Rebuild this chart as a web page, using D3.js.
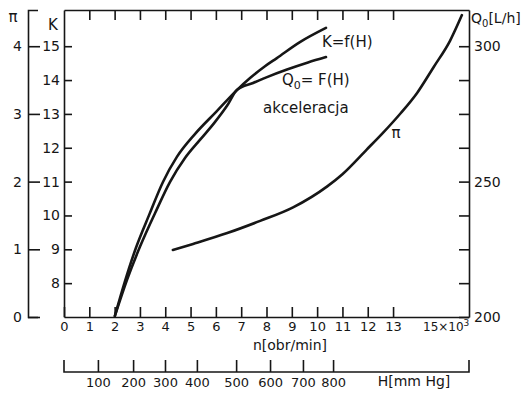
<!DOCTYPE html>
<html>
<head>
<meta charset="utf-8">
<script src="https://cdn.jsdelivr.net/npm/d3@7/dist/d3.min.js"></script>
<style>
  body { margin: 0; background: #fff; }
  svg { color: #161616; }
  svg text { font-family: "DejaVu Sans", sans-serif; fill: #161616; }
</style>
</head>
<body>
<svg id="chart" width="530" height="393"></svg>
<script>
// Rotational speed n, thousands of rev/min
const nTicks = [0, 1, 2, 3, 4, 5, 6, 7, 8, 9, 10, 11, 12, 13];
const nTopTicks = [1, 2, 3, 4, 5, 6, 7, 8, 9, 10, 11, 12, 13];
const kTicks = [8, 9, 10, 11, 12, 13, 14, 15];
const piTicks = [0, 1, 2, 3, 4];
const q0Ticks = [200, 212.5, 225, 237.5, 250, 262.5, 275, 287.5, 300];
const q0Labels = [200, 250, 300];
// Vacuum H [mm Hg] and the speed n at which each value is reached
const hTicks = [100, 200, 300, 400, 500, 600, 700, 800];
const hAtN = [1.34, 2.73, 3.99, 5.25, 6.80, 8.14, 9.44, 10.63];

// K = f(H): [n, K]
const kCurve = [
  [2.01, 7.03], [2.41, 8.06], [2.84, 9.04], [3.36, 10.01], [3.91, 10.99], [4.46, 11.73],
  [5.18, 12.41], [6.01, 13.06], [6.84, 13.71], [7.35, 14.06], [7.94, 14.41], [8.41, 14.65],
  [9.32, 15.12], [10.35, 15.54]
];
// Q0 = F(H), acceleration: [n, Q0 L/h]
const q0Curve = [
  [2.01, 200.4], [2.49, 213.7], [3.0, 225.9], [3.6, 238.4], [4.19, 249.9], [4.78, 258.7],
  [5.37, 265.4], [5.93, 271.6], [6.44, 278.0], [6.84, 283.9], [7.47, 286.4], [8.02, 288.6],
  [8.81, 291.4], [9.64, 294.0], [10.35, 296.0]
];
// Pressure ratio π: [n, π]
const piCurve = [
  [4.3, 0.99], [5.1, 1.08], [6.45, 1.24], [7.75, 1.42], [9.05, 1.62], [10.4, 1.93],
  [11.0, 2.11], [11.95, 2.47], [12.6, 2.72], [13.3, 3.01], [13.95, 3.31], [14.6, 3.69],
  [15.25, 4.08], [15.72, 4.46]
];

const ink = "#161616";
const svg = d3.select("#chart");

const kMax = 16.07;
const x = d3.scaleLinear().domain([0, 16]).range([64, 469]);
const yK = d3.scaleLinear().domain([7, kMax]).range([317, 10]);
const yPi = d3.scaleLinear().domain([0, (kMax - 7) / 2]).range([317, 10]);
const yQ = d3.scaleLinear().domain([200, 200 + 12.5 * (kMax - 7)]).range([317, 10]);
const hScale = d3.scaleLinear().domain(hTicks).range(hAtN.map(d => x(d)));
const hAxisY = 372;

function styleAxis(g, size) {
  g.attr("font-family", "DejaVu Sans, sans-serif").attr("font-size", size);
  g.selectAll("path, line").attr("stroke", ink).attr("stroke-width", 1.6);
}

// top frame with inward ticks
svg.append("g").attr("transform", `translate(0,${yK(kMax)})`)
  .call(d3.axisTop(x).tickValues(nTopTicks).tickSizeInner(-10).tickSizeOuter(0).tickFormat(""))
  .call(g => styleAxis(g, 13));

// bottom n axis
svg.append("g").attr("transform", `translate(0,${yK(7)})`)
  .call(d3.axisBottom(x).tickValues(nTicks).tickSizeInner(-10).tickSizeOuter(0).tickPadding(5))
  .call(g => styleAxis(g, 13));

// left K axis
svg.append("g").attr("transform", `translate(${x(0)},0)`)
  .call(d3.axisLeft(yK).tickValues(kTicks).tickSizeInner(-8).tickSizeOuter(0).tickPadding(4))
  .call(g => styleAxis(g, 14));

// outer π axis
svg.append("g").attr("transform", "translate(28,0)")
  .call(d3.axisLeft(yPi).tickValues(piTicks).tickSizeInner(-12).tickSizeOuter(-10).tickPadding(6)
    .tickFormat(d3.format("d")))
  .call(g => styleAxis(g, 14));

// right Q0 axis
svg.append("g").attr("transform", `translate(${x(16)},0)`)
  .call(d3.axisRight(yQ).tickValues(q0Ticks).tickSizeInner(-10).tickSizeOuter(0).tickPadding(5)
    .tickFormat(d => q0Labels.includes(d) ? d : ""))
  .call(g => styleAxis(g, 14));

// H axis below
const hG = svg.append("g").attr("transform", `translate(0,${hAxisY})`)
  .call(d3.axisBottom(hScale).tickValues(hTicks).tickSizeInner(-12).tickSizeOuter(0).tickPadding(6))
  .call(g => g.select(".domain").remove())
  .call(g => styleAxis(g, 13));
hG.append("path")
  .attr("d", `M${x(0)},-12V0H${x(16)}V-12`)
  .attr("fill", "none").attr("stroke", ink).attr("stroke-width", 1.6);

// curves
const curveStyle = s => s.attr("fill", "none").attr("stroke", ink)
  .attr("stroke-width", 2.6).attr("stroke-linejoin", "round").attr("stroke-linecap", "round");

svg.append("path").datum(kCurve)
  .attr("d", d3.line().x(d => x(d[0])).y(d => yK(d[1])).curve(d3.curveMonotoneX))
  .call(curveStyle);
svg.append("path").datum(q0Curve)
  .attr("d", d3.line().x(d => x(d[0])).y(d => yQ(d[1])).curve(d3.curveMonotoneX))
  .call(curveStyle);
svg.append("path").datum(piCurve)
  .attr("d", d3.line().x(d => x(d[0])).y(d => yPi(d[1])).curve(d3.curveMonotoneX))
  .call(curveStyle);

// axis titles
svg.append("text").attr("x", 13).attr("y", 22).attr("text-anchor", "middle")
  .attr("font-size", 15).text("π");
svg.append("text").attr("x", 53).attr("y", 30).attr("text-anchor", "middle")
  .attr("font-size", 15).text("K");

const qTitle = svg.append("text").attr("x", 471).attr("y", 23).attr("font-size", 14);
qTitle.append("tspan").text("Q");
qTitle.append("tspan").attr("font-size", 10).attr("dy", 4).text("0");
qTitle.append("tspan").attr("dy", -4).text("[L/h]");

svg.append("text").attr("x", 290).attr("y", 350).attr("text-anchor", "middle")
  .attr("font-size", 14).text("n[obr/min]");
svg.append("text").attr("x", 414).attr("y", 386).attr("text-anchor", "middle")
  .attr("font-size", 14).text("H[mm Hg]");

const nUnit = svg.append("text").attr("x", 423).attr("y", 331).attr("font-size", 12);
nUnit.append("tspan").text("15×10");
nUnit.append("tspan").attr("font-size", 9).attr("dy", -5).text("3");

// curve labels
svg.append("text").attr("x", x(10.19)).attr("y", yK(14.98)).attr("font-size", 15).text("K=f(H)");
const qLab = svg.append("text").attr("x", x(8.61)).attr("y", yK(13.85)).attr("font-size", 15);
qLab.append("tspan").text("Q");
qLab.append("tspan").attr("font-size", 11).attr("dy", 4).text("0");
qLab.append("tspan").attr("dy", -4).text("= F(H)");
svg.append("text").attr("x", x(7.86)).attr("y", yK(13.03)).attr("font-size", 15).text("akceleracja");
svg.append("text").attr("x", x(13.12)).attr("y", yPi(2.64)).attr("text-anchor", "middle")
  .attr("font-size", 15).text("π");
</script>
</body>
</html>
